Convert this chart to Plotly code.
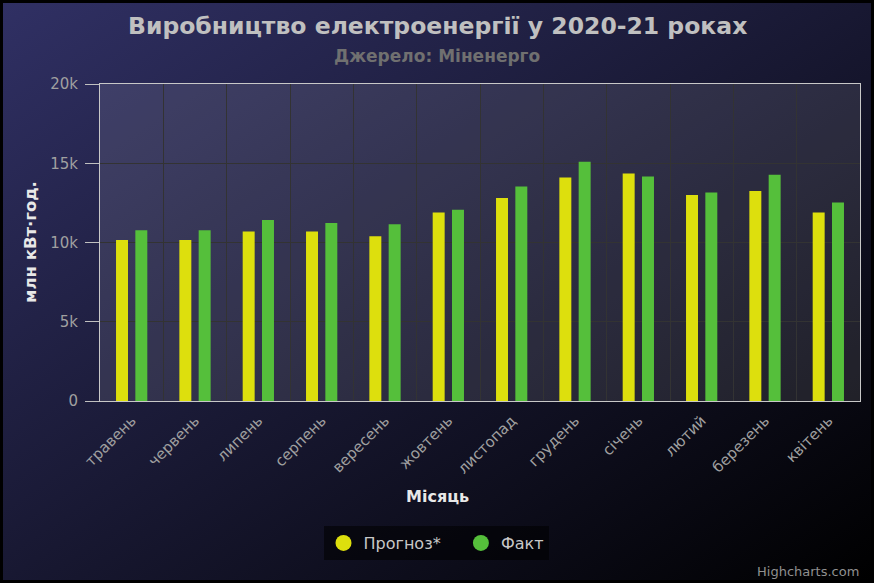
import base64
import plotly.graph_objects as go

months = ["травень", "червень", "липень", "серпень", "вересень", "жовтень",
          "листопад", "грудень", "січень", "лютий", "березень", "квітень"]
forecast = [10150, 10150, 10700, 10700, 10400, 11900, 12800, 14100, 14350, 13000, 13250, 11900]
actual = [10780, 10780, 11420, 11230, 11150, 12070, 13540, 15090, 14170, 13160, 14270, 12530]
y_ticks = [0, 5000, 10000, 15000, 20000]
y_tick_text = ["0", "5k", "10k", "15k", "20k"]

W, H = 874, 583
L, R, T, B = 100, 14, 84, 182
PW, PH = W - L - R, H - T - B

def px(xp):
    return (xp - L) / PW

def py(yp):
    return (H - B - yp) / PH

svg = (f"<svg xmlns='http://www.w3.org/2000/svg' width='{W}' height='{H}' viewBox='0 0 {W} {H}' preserveAspectRatio='none'>"
       "<defs><linearGradient id='g' x1='0' y1='0' x2='1' y2='1'>"
       "<stop offset='0' stop-color='rgb(48,48,100)'/><stop offset='1' stop-color='rgb(0,0,0)'/>"
       "</linearGradient></defs>"
       f"<rect width='{W}' height='{H}' fill='black'/>"
       f"<rect x='3' y='3' width='{W-6}' height='{H-6}' fill='url(#g)'/></svg>")
bg_src = "data:image/svg+xml;base64," + base64.b64encode(svg.encode()).decode()

xs = list(range(len(months)))

fig = go.Figure()
fig.add_trace(go.Bar(x=xs, y=forecast, name="Прогноз*", marker=dict(color="#DDDF0D", line=dict(width=0)), showlegend=False))
fig.add_trace(go.Bar(x=xs, y=actual, name="Факт", marker=dict(color="#55BF3B", line=dict(width=0)), showlegend=False))
# legend entries with circular symbols
fig.add_trace(go.Scatter(x=[None], y=[None], mode="markers", name="Прогноз*\u00a0\u00a0\u00a0",
                         marker=dict(color="#DDDF0D", size=16, symbol="circle")))
fig.add_trace(go.Scatter(x=[None], y=[None], mode="markers", name="Факт",
                         marker=dict(color="#55BF3B", size=16, symbol="circle")))

fig.update_layout(
    width=W, height=H,
    margin=dict(l=L, r=R, t=T, b=B),
    paper_bgcolor="black",
    plot_bgcolor="rgba(0,0,0,0)",
    barmode="group", bargap=0.39, bargroupgap=0.38,
    font=dict(family="DejaVu Sans", color="#A0A0A0"),
    images=[dict(source=bg_src, xref="paper", yref="paper", x=px(0), y=py(0),
                 sizex=W / PW, sizey=H / PH, xanchor="left", yanchor="top",
                 sizing="stretch", layer="below")],
    shapes=[dict(type="rect", xref="x domain", yref="y domain", x0=0, x1=1, y0=0, y1=1,
                 fillcolor="rgba(255,255,255,0.1)", line=dict(width=0), layer="below")],
    xaxis=dict(range=[-0.5, len(months) - 0.5], tickmode="array", tickvals=xs, ticktext=months,
               tickangle=-45, tickfont=dict(size=15, color="#A0A0A0"), showgrid=False,
               zeroline=False, showline=True, linecolor="#C8C8C8", linewidth=1, mirror=True,
               ticks="", ticklabelstandoff=4,
               minor=dict(tickmode="array", tickvals=[i - 0.5 for i in range(len(months) + 1)],
                          showgrid=True, gridcolor="#333333", gridwidth=1, ticks="")),
    yaxis=dict(range=[0, 20000], tickmode="array", tickvals=y_ticks, ticktext=y_tick_text,
               tickfont=dict(size=15, color="#A0A0A0"), ticks="outside", ticklen=14,
               tickcolor="#C0C0C0", tickwidth=1, ticklabelstandoff=4,
               showgrid=True, gridcolor="#333333", gridwidth=1, zeroline=False,
               showline=True, linecolor="#C8C8C8", linewidth=1, mirror=True),
    legend=dict(orientation="h", x=px(436), y=py(543), xanchor="center", yanchor="middle",
                bgcolor="rgba(0,0,0,0.55)", font=dict(size=16, color="#C8C8C8"),
                itemsizing="trace", itemwidth=30, borderwidth=0),
    annotations=[
        dict(text="<b>Виробництво електроенергії у 2020-21 роках</b>", xref="paper", yref="paper",
             x=px(437), y=py(26), xanchor="center", yanchor="middle", showarrow=False,
             font=dict(family="DejaVu Sans", size=23.5, color="#C0C0C0")),
        dict(text="<b>Джерело: Міненерго</b>", xref="paper", yref="paper",
             x=px(437), y=py(56), xanchor="center", yanchor="middle", showarrow=False,
             font=dict(family="DejaVu Sans", size=17, color="#707070")),
        dict(text="<b>млн кВт·год.</b>", xref="paper", yref="paper", textangle=-90,
             x=px(30), y=py(242), xanchor="center", yanchor="middle", showarrow=False,
             font=dict(family="DejaVu Sans", size=16.5, color="#E8E8E8")),
        dict(text="<b>Місяць</b>", xref="paper", yref="paper",
             x=px(437), y=py(497), xanchor="center", yanchor="middle", showarrow=False,
             font=dict(family="DejaVu Sans", size=16, color="#E8E8E8")),
        dict(text="Highcharts.com", xref="paper", yref="paper",
             x=px(861), y=py(571), xanchor="right", yanchor="middle", showarrow=False,
             font=dict(family="DejaVu Sans", size=13, color="#909090")),
    ],
)

fig.write_html("out.html")
